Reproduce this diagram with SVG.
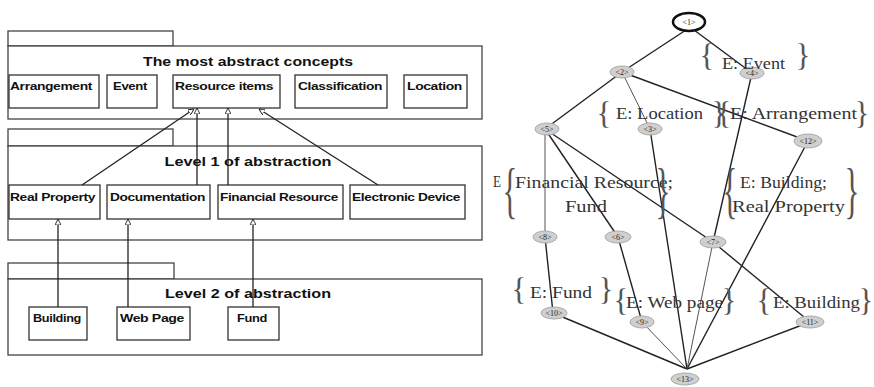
<svg xmlns="http://www.w3.org/2000/svg" width="874" height="387" viewBox="0 0 874 387">
<style>
.pkg{fill:#fff;stroke:#444;stroke-width:1.3}
.box{fill:#fff;stroke:#333;stroke-width:1.3}
.ttl{font-family:"Liberation Sans",Arial,sans-serif;font-weight:bold;font-size:13px;fill:#111;text-anchor:middle}
.itm{font-family:"Liberation Sans",Arial,sans-serif;font-weight:bold;font-size:11px;fill:#111;letter-spacing:-0.3px}
.cn{stroke:#222;stroke-width:1.3;fill:none}
.ed{stroke:#222;stroke-width:1.4;fill:none}
.edl{stroke:#555;stroke-width:1;fill:none}
.nd{fill:#cfcfcf;stroke:#aaa;stroke-width:1}
.nl{font-family:"Liberation Serif",serif;font-size:8px;fill:#222;text-anchor:middle}
.lb{font-family:"Liberation Serif","Times New Roman",serif;font-size:16px;fill:#333}
.br{font-family:"Liberation Serif","Times New Roman",serif;font-size:31px;fill:#555;text-anchor:middle}
</style>
<defs>
<marker id="tri" viewBox="0 0 10 10" refX="10" refY="5" markerWidth="6" markerHeight="6" orient="auto" markerUnits="userSpaceOnUse">
<path d="M0,0 L10,5 L0,10 z" fill="#fff" stroke="#222" stroke-width="1.5"/>
</marker>
</defs>

<g id="pkg0">
<rect class="pkg" x="8" y="31" width="165" height="15"/>
<rect class="pkg" x="8" y="46" width="474" height="73"/>
<text class="ttl" x="248" y="66" textLength="210" lengthAdjust="spacingAndGlyphs">The most abstract concepts</text>
</g>
<g id="arrangement"><rect class="box" x="9" y="75" width="90" height="33"/><text class="itm" x="10" y="90" textLength="82" lengthAdjust="spacingAndGlyphs">Arrangement</text></g>
<g id="event"><rect class="box" x="107" y="75" width="50" height="33"/><text class="itm" x="113" y="90" textLength="34" lengthAdjust="spacingAndGlyphs">Event</text></g>
<g id="resource"><rect class="box" x="173" y="75" width="107" height="33"/><text class="itm" x="175" y="90" textLength="98" lengthAdjust="spacingAndGlyphs">Resource items</text></g>
<g id="classification"><rect class="box" x="295" y="75" width="92" height="33"/><text class="itm" x="298" y="90" textLength="84" lengthAdjust="spacingAndGlyphs">Classification</text></g>
<g id="location"><rect class="box" x="404" y="75" width="63" height="33"/><text class="itm" x="407" y="90" textLength="55" lengthAdjust="spacingAndGlyphs">Location</text></g>

<g id="pkg1">
<rect class="pkg" x="8" y="129" width="165" height="17"/>
<rect class="pkg" x="8" y="146" width="474" height="94"/>
<text class="ttl" x="248" y="166" textLength="167" lengthAdjust="spacingAndGlyphs">Level 1 of abstraction</text>
</g>
<g id="realproperty"><rect class="box" x="9" y="185" width="91" height="34"/><text class="itm" x="10" y="201" textLength="85" lengthAdjust="spacingAndGlyphs">Real Property</text></g>
<g id="documentation"><rect class="box" x="107" y="185" width="103" height="34"/><text class="itm" x="110" y="201" textLength="95" lengthAdjust="spacingAndGlyphs">Documentation</text></g>
<g id="financial"><rect class="box" x="218" y="185" width="125" height="34"/><text class="itm" x="220" y="201" textLength="118" lengthAdjust="spacingAndGlyphs">Financial Resource</text></g>
<g id="electronic"><rect class="box" x="350" y="185" width="115" height="34"/><text class="itm" x="352" y="201" textLength="108" lengthAdjust="spacingAndGlyphs">Electronic Device</text></g>

<g id="pkg2">
<rect class="pkg" x="8" y="263" width="166" height="16"/>
<rect class="pkg" x="8" y="279" width="474" height="76"/>
<text class="ttl" x="248" y="298" textLength="166" lengthAdjust="spacingAndGlyphs">Level 2 of abstraction</text>
</g>
<g id="building"><rect class="box" x="29" y="307" width="58" height="33"/><text class="itm" x="33" y="322" textLength="48" lengthAdjust="spacingAndGlyphs">Building</text></g>
<g id="webpage"><rect class="box" x="117" y="307" width="73" height="33"/><text class="itm" x="120" y="322" textLength="64" lengthAdjust="spacingAndGlyphs">Web Page</text></g>
<g id="fund"><rect class="box" x="228" y="307" width="51" height="33"/><text class="itm" x="237" y="322" textLength="30" lengthAdjust="spacingAndGlyphs">Fund</text></g>

<g id="connectors">
<line class="cn" x1="82" y1="185" x2="194" y2="109" marker-end="url(#tri)"/>
<line class="cn" x1="197" y1="185" x2="197" y2="108" marker-end="url(#tri)"/>
<line class="cn" x1="228" y1="185" x2="228" y2="108" marker-end="url(#tri)"/>
<line class="cn" x1="378" y1="185" x2="259" y2="109" marker-end="url(#tri)"/>
<line class="cn" x1="58" y1="307" x2="58" y2="219" marker-end="url(#tri)"/>
<line class="cn" x1="128" y1="307" x2="128" y2="219" marker-end="url(#tri)"/>
<line class="cn" x1="253" y1="307" x2="253" y2="219" marker-end="url(#tri)"/>
</g>

<g id="lattice-edges">
<line class="ed" x1="686" y1="30" x2="622" y2="72"/>
<line class="ed" x1="694" y1="30" x2="752" y2="73"/>
<line class="ed" x1="622" y1="72" x2="545" y2="129"/>
<line class="edl" x1="622" y1="72" x2="650" y2="129"/>
<line class="ed" x1="622" y1="72" x2="808" y2="141"/>
<line class="ed" x1="752" y1="73" x2="713" y2="242"/>
<line class="edl" x1="545" y1="129" x2="545" y2="237"/>
<line class="ed" x1="545" y1="129" x2="618" y2="237"/>
<line class="ed" x1="545" y1="129" x2="713" y2="242"/>
<line class="ed" x1="650" y1="129" x2="687" y2="369"/>
<line class="ed" x1="808" y1="141" x2="687" y2="369"/>
<line class="ed" x1="545" y1="237" x2="553" y2="313"/>
<line class="ed" x1="618" y1="237" x2="642" y2="322"/>
<line class="edl" x1="713" y1="242" x2="687" y2="369"/>
<line class="ed" x1="713" y1="242" x2="810" y2="322"/>
<line class="ed" x1="553" y1="313" x2="687" y2="369"/>
<line class="edl" x1="642" y1="322" x2="687" y2="369"/>
<line class="ed" x1="810" y1="322" x2="687" y2="369"/>
</g>

<g id="n1"><ellipse cx="689" cy="22" rx="16" ry="9" fill="#fff" stroke="#111" stroke-width="2.5"/><text class="nl" x="689" y="25">&lt;1&gt;</text></g>
<g id="n2"><ellipse class="nd" cx="622" cy="72" rx="12" ry="6"/><text class="nl" x="622" y="75">&lt;2&gt;</text></g>
<g id="n4"><ellipse class="nd" cx="752" cy="73" rx="12" ry="6"/><text class="nl" x="752" y="76">&lt;4&gt;</text></g>
<g id="n5"><ellipse class="nd" cx="547" cy="129" rx="12" ry="6"/><text class="nl" x="547" y="132">&lt;5&gt;</text></g>
<g id="n3"><ellipse class="nd" cx="650" cy="129" rx="12" ry="6"/><text class="nl" x="650" y="132">&lt;3&gt;</text></g>
<g id="n12"><ellipse class="nd" cx="808" cy="141" rx="14" ry="7"/><text class="nl" x="808" y="144">&lt;12&gt;</text></g>
<g id="n8"><ellipse class="nd" cx="545" cy="237" rx="12" ry="6"/><text class="nl" x="545" y="240">&lt;8&gt;</text></g>
<g id="n6"><ellipse class="nd" cx="618" cy="237" rx="13" ry="6"/><text class="nl" x="618" y="240">&lt;6&gt;</text></g>
<g id="n7"><ellipse class="nd" cx="713" cy="242" rx="13" ry="6"/><text class="nl" x="713" y="245">&lt;7&gt;</text></g>
<g id="n10"><ellipse class="nd" cx="554" cy="313" rx="13" ry="6"/><text class="nl" x="554" y="316">&lt;10&gt;</text></g>
<g id="n9"><ellipse class="nd" cx="642" cy="322" rx="12" ry="6"/><text class="nl" x="642" y="325">&lt;9&gt;</text></g>
<g id="n11"><ellipse class="nd" cx="810" cy="322" rx="14" ry="6"/><text class="nl" x="810" y="325">&lt;11&gt;</text></g>
<g id="n13"><ellipse class="nd" cx="685" cy="379" rx="14" ry="6"/><text class="nl" x="685" y="382">&lt;13&gt;</text></g>

<g id="labels">
<text class="br" x="707" y="66">{</text><text class="lb" x="722" y="69" textLength="63" lengthAdjust="spacingAndGlyphs">E: Event</text><text class="br" x="803" y="66">}</text>
<text class="br" x="604" y="124">{</text><text class="lb" x="616" y="119" textLength="87" lengthAdjust="spacingAndGlyphs">E: Location</text><text class="br" x="719" y="124">}</text>
<text class="br" x="724" y="124">{</text><text class="lb" x="730" y="119" textLength="127" lengthAdjust="spacingAndGlyphs">E: Arrangement</text><text class="br" x="862" y="124">}</text>
<text class="lb" x="493" y="187" textLength="8" lengthAdjust="spacingAndGlyphs">E</text>
<text class="br" transform="translate(510,168) scale(1,1.95)" x="0" y="22">{</text>
<text class="lb" x="515" y="188" textLength="158" lengthAdjust="spacingAndGlyphs">Financial Resource;</text>
<text class="lb" x="565" y="212" textLength="42" lengthAdjust="spacingAndGlyphs">Fund</text>
<text class="br" transform="translate(663,168) scale(1,1.95)" x="0" y="22">}</text>
<text class="br" transform="translate(730,168) scale(1,1.95)" x="0" y="22">{</text>
<text class="lb" x="740" y="188" textLength="87" lengthAdjust="spacingAndGlyphs">E: Building;</text>
<text class="lb" x="732" y="212" textLength="113" lengthAdjust="spacingAndGlyphs">Real Property</text>
<text class="br" transform="translate(852,168) scale(1,1.95)" x="0" y="22">}</text>
<text class="br" x="519" y="300">{</text><text class="lb" x="530" y="298" textLength="62" lengthAdjust="spacingAndGlyphs">E: Fund</text><text class="br" x="606" y="300">}</text>
<text class="br" x="621" y="311">{</text><text class="lb" x="626" y="308" textLength="97" lengthAdjust="spacingAndGlyphs">E: Web page</text><text class="br" x="729" y="311">}</text>
<text class="br" x="764" y="311">{</text><text class="lb" x="773" y="308" textLength="87" lengthAdjust="spacingAndGlyphs">E: Building</text><text class="br" x="866" y="311">}</text>
</g>
</svg>
